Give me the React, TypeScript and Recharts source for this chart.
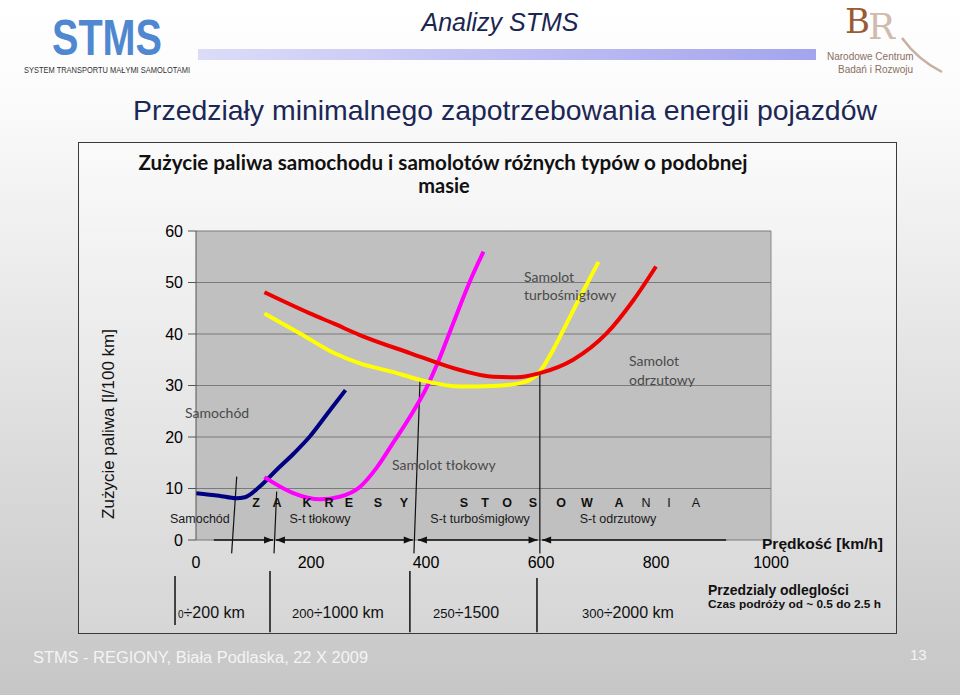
import { LineChart, Line, XAxis, YAxis, CartesianGrid, ReferenceLine } from "recharts";

// speed [km/h] and fuel use [l/100 km]
const carSpeed = [0, 40, 70, 85, 110, 140, 170, 198, 233, 260];
const carFuel = [9.1, 8.6, 8.1, 8.3, 10.3, 13.6, 16.8, 20.1, 25.2, 29.1];

const pistonSpeed = [119, 169, 216, 250, 285, 314, 343, 378, 401, 424, 447, 477, 500];
const pistonFuel = [12.2, 9.1, 7.9, 8.4, 10.3, 14.0, 18.9, 25.0, 29.6, 35.4, 42.0, 50.4, 56];

const turbopropSpeed = [119, 181, 240, 285, 340, 390, 459, 517, 569, 598, 621, 639, 668, 700];
const turbopropFuel = [44, 40.1, 36.3, 34.3, 32.7, 31.1, 29.8, 29.9, 30.6, 32.7, 36.9, 40.8, 47.2, 54];

const jetSpeed = [119, 198, 240, 285, 372, 459, 517, 558, 598, 656, 714, 761, 800];
const jetFuel = [48.1, 44, 42, 39.8, 36.3, 33, 31.7, 31.6, 32.4, 35, 40.1, 46.6, 53.1];

const xTicks = [0, 200, 400, 600, 800, 1000];
const yTicks = [0, 10, 20, 30, 40, 50, 60];

// slanted boundary lines between ranges (data coords)
const boundaryLines = [
  { x1: 70.8, y1: 12.3, x2: 62, y2: -2.6 },
  { x1: 140.3, y1: 9.4, x2: 135.7, y2: -2.6 },
  { x1: 389.6, y1: 30.9, x2: 379, y2: -2.6 },
  { x1: 598, y1: 32.4, x2: 598, y2: -2.6 },
];

// dividers of the distance table under the axis
const tableDividers = [
  { x: -36.5, y1: -7, y2: -16.5 },
  { x: 128.7, y1: -6, y2: -17.9 },
  { x: 372, y1: -6, y2: -17.9 },
  { x: 593, y1: -7.4, y2: -17.9 },
];

// arrow segments along the speed axis
const arrowSegments = [
  { from: 31, to: 134, start: false, end: true },
  { from: 139, to: 377, start: true, end: true },
  { from: 386, to: 594, start: true, end: true },
  { from: 602, to: 922, start: true, end: false },
];

const zoneLetters = "ZAKRESYSTOSOWANIA".split("");
const zoneLetterX = [256, 277, 307, 329, 349, 378, 404, 464, 485, 507, 533, 561, 587, 619, 646, 669, 696];

const ARIAL = '"Liberation Sans", Arial, sans-serif';
const CAL = 'Lato, "Open Sans", sans-serif';

const pts = (xs: number[], ys: number[]) => xs.map((x, i) => ({ x, y: ys[i] }));

const arrowShape = (start: boolean, end: boolean) => (p: any) => {
  const { x1, y1, x2, y2 } = p;
  const head = (tx: number, ty: number, dir: number) =>
    `${tx},${ty} ${tx - dir * 9},${ty - 3.5} ${tx - dir * 9},${ty + 3.5}`;
  return (
    <g>
      <line x1={x1} y1={y1} x2={x2} y2={y2} stroke="#111" strokeWidth={1.5} />
      {end && <polygon points={head(x2, y2, 1)} fill="#111" />}
      {start && <polygon points={head(x1, y1, -1)} fill="#111" />}
    </g>
  );
};

export default function App() {
  return (
    <div style={{ position: "absolute", left: 0, top: 0, width: 960, height: 695, overflow: "hidden" }}>
      <div
        style={{
          position: "absolute",
          inset: 0,
          background: "linear-gradient(to bottom, #ffffff 0%, #fbfbfb 14%, #c6c6c6 100%)",
        }}
      />
      <div
        style={{
          position: "absolute",
          left: 78,
          top: 142,
          width: 817,
          height: 490,
          border: "1px solid #3a3a3a",
          background: "linear-gradient(to bottom, #fafafa 0%, #d6d6d6 100%)",
        }}
      />
      <div style={{ position: "absolute", left: 0, top: 0 }}>
        <LineChart width={960} height={695} margin={{ top: 231, right: 189, bottom: 125, left: 156 }}>
          <CartesianGrid vertical={false} stroke="#7a7a7a" fill="#c0c0c0" />
          <XAxis
            dataKey="x"
            type="number"
            domain={[0, 1000]}
            ticks={xTicks}
            axisLine={false}
            tickLine={false}
            tickSize={0}
            tickMargin={17}
            height={30}
            allowDataOverflow
            tick={{ fontSize: 16, fill: "#000", fontFamily: ARIAL }}
          />
          <YAxis
            type="number"
            domain={[0, 60]}
            ticks={yTicks}
            width={40}
            tickSize={8}
            tickMargin={5}
            stroke="#555"
            allowDataOverflow
            tick={{ fontSize: 16, fill: "#000", fontFamily: ARIAL }}
          />
          <ReferenceLine x={1000} stroke="#8a8a8a" />
          {boundaryLines.map((b, i) => (
            <ReferenceLine
              key={"b" + i}
              segment={[{ x: b.x1, y: b.y1 }, { x: b.x2, y: b.y2 }]}
              stroke="#111"
              strokeWidth={1.2}
              ifOverflow="visible"
            />
          ))}
          {tableDividers.map((d, i) => (
            <ReferenceLine
              key={"d" + i}
              segment={[{ x: d.x, y: d.y1 }, { x: d.x, y: d.y2 }]}
              stroke="#111"
              strokeWidth={1.5}
              ifOverflow="visible"
            />
          ))}
          {arrowSegments.map((s, i) => (
            <ReferenceLine
              key={"a" + i}
              segment={[{ x: s.from, y: 0 }, { x: s.to, y: 0 }]}
              ifOverflow="visible"
              shape={arrowShape(s.start, s.end)}
            />
          ))}
          <Line data={pts(carSpeed, carFuel)} dataKey="y" type="monotone" stroke="#000080" strokeWidth={4} dot={false} isAnimationActive={false} />
          <Line data={pts(pistonSpeed, pistonFuel)} dataKey="y" type="monotone" stroke="#ff00ff" strokeWidth={4} dot={false} isAnimationActive={false} />
          <Line data={pts(turbopropSpeed, turbopropFuel)} dataKey="y" type="monotone" stroke="#ffff00" strokeWidth={4} dot={false} isAnimationActive={false} />
          <Line data={pts(jetSpeed, jetFuel)} dataKey="y" type="monotone" stroke="#ee0000" strokeWidth={4} dot={false} isAnimationActive={false} />
        </LineChart>
      </div>
      <svg width={960} height={695} style={{ position: "absolute", left: 0, top: 0, pointerEvents: "none" }}>
        <defs>
          <linearGradient id="bar" x1="0" x2="1" y1="0" y2="0">
            <stop offset="0" stopColor="#dcdcf8" />
            <stop offset="1" stopColor="#a4a4ee" />
          </linearGradient>
        </defs>
        {/* header */}
        <text x={52} y={55} fontFamily={ARIAL} fontWeight="bold" fontSize={50} fill="#4f88d0" textLength={110} lengthAdjust="spacingAndGlyphs">STMS</text>
        <text x={24} y={73} fontFamily={ARIAL} fontSize={8.5} fill="#333" textLength={166} lengthAdjust="spacingAndGlyphs">SYSTEM TRANSPORTU MAŁYMI SAMOLOTAMI</text>
        <rect x={198} y={49} width={618} height={11} fill="url(#bar)" />
        <text x={500} y={31} textAnchor="middle" fontFamily={ARIAL} fontStyle="italic" fontSize={25} fill="#1a2550">Analizy STMS</text>
        <text x={845} y={33} fontFamily="'DejaVu Serif', serif" fontSize={34} fill="#9a5b34">B</text>
        <text x={868} y={39} fontFamily="'DejaVu Serif', serif" fontSize={36} fill="#c8b0a0" opacity={0.85}>R</text>
        <path d="M902,38 Q918,60 942,72" stroke="#c8b0a0" strokeWidth={2.5} fill="none" />
        <text x={827} y={60} fontFamily={ARIAL} fontSize={10} fill="#8a6f60">Narodowe Centrum</text>
        <text x={838} y={73} fontFamily={ARIAL} fontSize={10} fill="#8a6f60">Badań i Rozwoju</text>
        <text x={505} y={120} textAnchor="middle" fontFamily={ARIAL} fontSize={28} fill="#1c2755" textLength={744} lengthAdjust="spacingAndGlyphs">Przedziały minimalnego zapotrzebowania energii pojazdów</text>

        {/* chart titles */}
        <text x={443} y={170} textAnchor="middle" fontFamily={CAL} fontWeight="bold" fontSize={20} fill="#111" textLength={609} lengthAdjust="spacingAndGlyphs">Zużycie paliwa samochodu i samolotów różnych typów o podobnej</text>
        <text x={444} y={193} textAnchor="middle" fontFamily={CAL} fontWeight="bold" fontSize={20} fill="#111">masie</text>
        <text transform="translate(114,424) rotate(-90)" textAnchor="middle" fontFamily={ARIAL} fontSize={17} fill="#111">Zużycie paliwa [l/100 km]</text>

        {/* curve labels */}
        <g fontFamily={CAL} fontSize={14} fill="#4a4a4a">
          <text x={185} y={418}>Samochód</text>
          <text x={392} y={470}>Samolot tłokowy</text>
          <text x={524} y={282}>Samolot</text>
          <text x={524} y={300}>turbośmigłowy</text>
          <text x={629} y={366}>Samolot</text>
          <text x={629} y={385}>odrzutowy</text>
        </g>

        {/* zones */}
        {zoneLetters.map((l, i) => (
          <text key={i} x={zoneLetterX[i]} y={507} textAnchor="middle" fontFamily={ARIAL} fontSize={12.5} fontWeight={i < 14 ? "bold" : "normal"} fill="#111">{l}</text>
        ))}
        <g fontFamily={ARIAL} fontSize={12.5} fill="#1a1a1a">
          <text x={170} y={523}>Samochód</text>
          <text x={320} y={523} textAnchor="middle">S-t tłokowy</text>
          <text x={480} y={523} textAnchor="middle">S-t turbośmigłowy</text>
          <text x={618} y={523} textAnchor="middle">S-t odrzutowy</text>
        </g>
        <text x={762} y={549} fontFamily={ARIAL} fontWeight="bold" fontSize={15} fill="#111" textLength={121} lengthAdjust="spacingAndGlyphs">Prędkość [km/h]</text>

        {/* distance table */}
        <g fontFamily={ARIAL} fill="#111">
          <text x={178} y={618}><tspan fontSize={10}>0</tspan><tspan fontSize={16}>÷200 km</tspan></text>
          <text x={292} y={618}><tspan fontSize={13}>200</tspan><tspan fontSize={16}>÷1000 km</tspan></text>
          <text x={433} y={618}><tspan fontSize={13}>250</tspan><tspan fontSize={16}>÷1500</tspan></text>
          <text x={582} y={618}><tspan fontSize={13}>300</tspan><tspan fontSize={16}>÷2000 km</tspan></text>
          <text x={708} y={595} fontWeight="bold" fontSize={14} textLength={141} lengthAdjust="spacingAndGlyphs">Przedzialy  odleglości</text>
          <text x={708} y={608} fontWeight="bold" fontSize={11.5} textLength={173} lengthAdjust="spacingAndGlyphs">Czas podróży od ~ 0.5 do 2.5 h</text>
        </g>

        {/* footer */}
        <text x={33} y={663} fontFamily={ARIAL} fontSize={16} fill="#f4f4f4" textLength={335} lengthAdjust="spacingAndGlyphs">STMS - REGIONY, Biała Podlaska, 22 X 2009</text>
        <text x={910} y={660} fontFamily={ARIAL} fontSize={15} fill="#f4f4f4">13</text>
      </svg>
    </div>
  );
}
